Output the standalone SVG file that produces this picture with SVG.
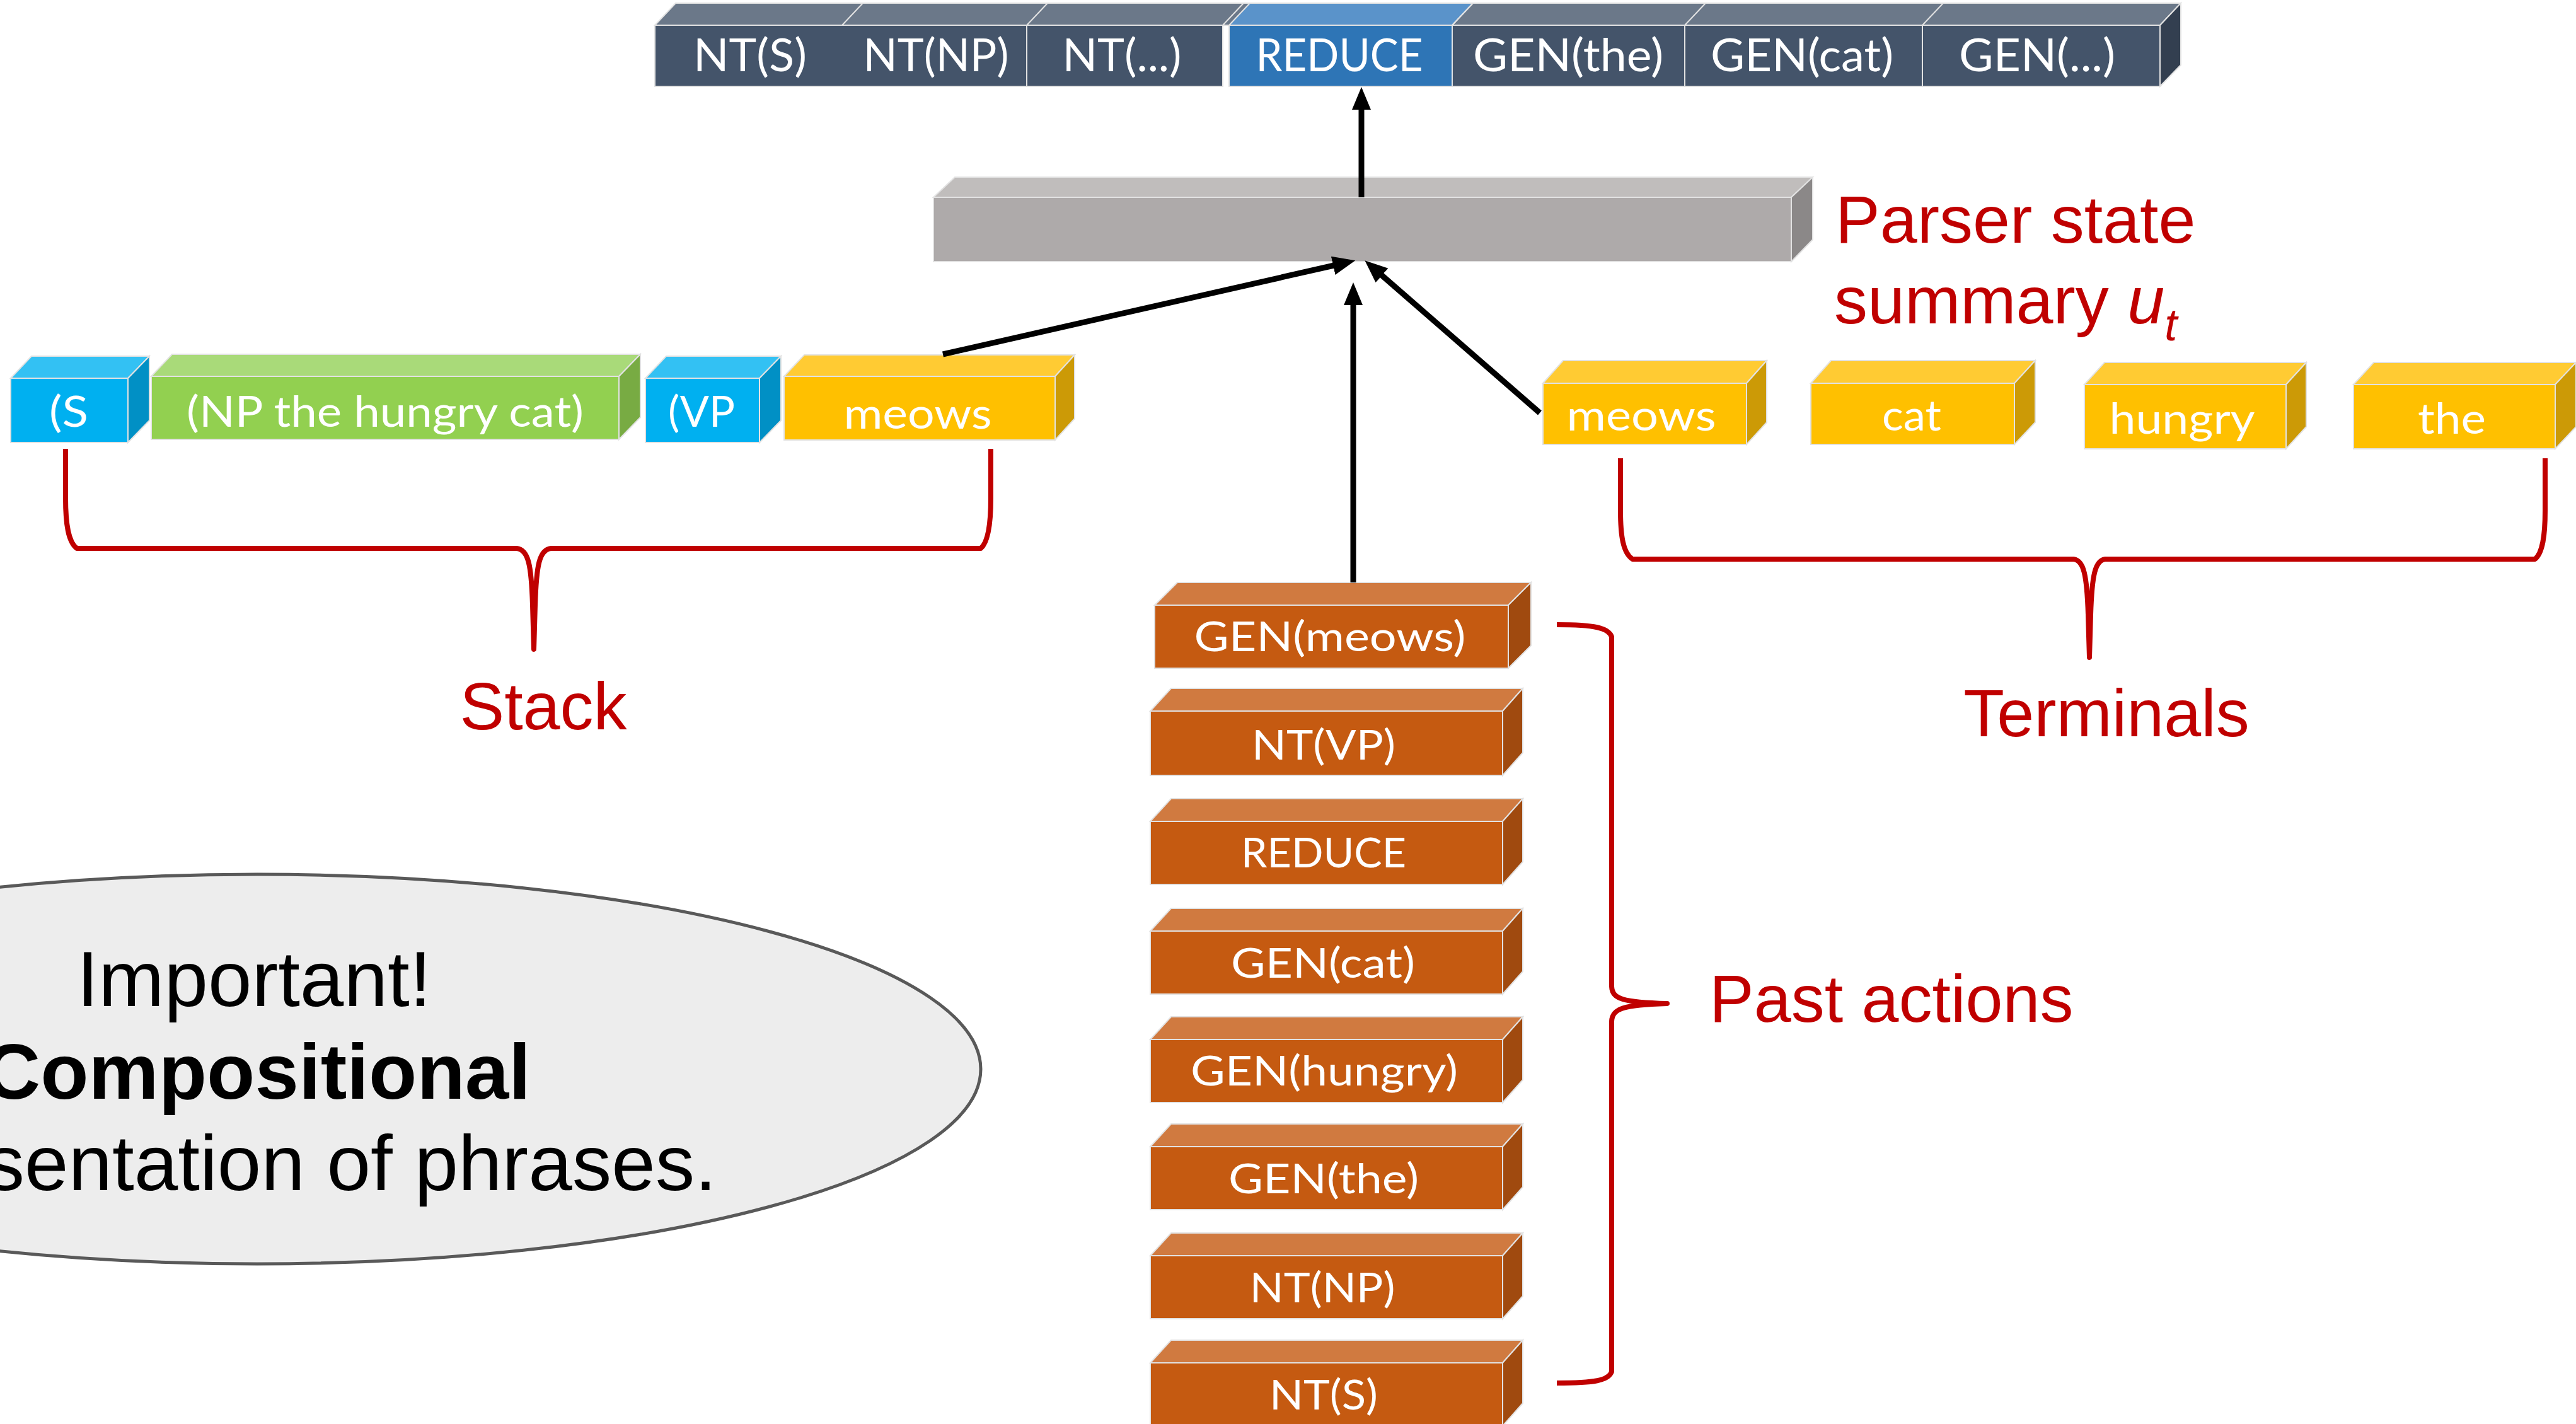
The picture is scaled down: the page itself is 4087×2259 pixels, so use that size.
<svg xmlns="http://www.w3.org/2000/svg" width="4087" height="2259" viewBox="0 0 4087 2259">
  <style>
    .lbl { font-family: Lato, "Open Sans", sans-serif; fill: #ffffff; text-anchor: middle; }
    .red { font-family: "Liberation Sans", Arial, sans-serif; fill: #C00000; }
    .note { font-family: "Liberation Sans", Arial, sans-serif; fill: #000000; font-size: 125px; }
    .edge { stroke: #E2E2E2; stroke-width: 2; }
    .brace { fill: none; stroke: #C00000; stroke-width: 8; stroke-linejoin: round; }
    .conn { fill: none; stroke: #000000; stroke-width: 9; }
    /* action bar */
    .sl-f { fill: #44546A; } .sl-t { fill: #6B7889; } .sl-s { fill: #333F50; }
    .bl-f { fill: #2E75B6; } .bl-t { fill: #5A93CA; }
    /* stack and terminal blocks */
    .cy-f { fill: #00B0F0; } .cy-t { fill: #33C1F3; } .cy-s { fill: #0190C5; }
    .gr-f { fill: #92D050; } .gr-t { fill: #A9DA79; } .gr-s { fill: #78AB43; }
    .ye-f { fill: #FFC000; } .ye-t { fill: #FFCB33; } .ye-s { fill: #CC9A06; }
    .gy-f { fill: #AEAAAA; } .gy-t { fill: #C0BDBC; } .gy-s { fill: #8B8888; }
    .or-f { fill: #C55A11; } .or-t { fill: #D07A40; } .or-s { fill: #A04A0F; }
  </style>
  <defs>
    <marker id="arrow" markerUnits="userSpaceOnUse" viewBox="0 0 36 30" markerWidth="36" markerHeight="30" refX="6" refY="15" orient="auto">
      <path d="M0,0 L36,15 L0,30 z" fill="#000000"/>
    </marker>
  </defs>

  <rect x="0" y="0" width="4087" height="2259" fill="#ffffff"/>

  <!-- callout ellipse -->
  <g id="note">
    <ellipse cx="408" cy="1696" rx="1148" ry="309" fill="#EDEDED" stroke="#595959" stroke-width="5"/>
    <text class="note" x="403" y="1596" text-anchor="middle">Important!</text>
    <text class="note" x="408" y="1743" text-anchor="middle" font-weight="bold">Compositional</text>
    <text class="note" x="1137" y="1888" text-anchor="end">sentation of phrases.</text>
  </g>

  <!-- action sequence bar -->
  <g id="actions">
    <polygon class="sl-t edge" points="1039,40 1072,5 3460,5 3427,40"/>
    <polygon class="bl-t edge" points="1950,40 1983,5 2337,5 2304,40"/>
    <polygon class="sl-s edge" points="3427,40 3460,5 3460,103 3427,137"/>
    <rect class="sl-f edge" x="1039" y="40" width="901" height="97"/>
    <rect class="bl-f edge" x="1950" y="40" width="354" height="97"/>
    <rect class="sl-f edge" x="2304" y="40" width="1123" height="97"/>
    <g stroke="#E2E2E2" stroke-width="2">
      <line x1="1336" y1="40" x2="1369" y2="5"/>
      <line x1="1629" y1="40" x2="1662" y2="5"/>
      <line x1="1629" y1="40" x2="1629" y2="137"/>
      <line x1="1940" y1="40" x2="1973" y2="5"/>
      <line x1="2304" y1="40" x2="2337" y2="5"/>
      <line x1="2673" y1="40" x2="2706" y2="5"/>
      <line x1="2673" y1="40" x2="2673" y2="137"/>
      <line x1="3050" y1="40" x2="3083" y2="5"/>
      <line x1="3050" y1="40" x2="3050" y2="137"/>
    </g>
    <g class="lbl" font-size="72">
      <text x="1190" y="113" textLength="180" lengthAdjust="spacingAndGlyphs">NT(S)</text>
      <text x="1485" y="113" textLength="231" lengthAdjust="spacingAndGlyphs">NT(NP)</text>
      <text x="1780" y="113" textLength="189" lengthAdjust="spacingAndGlyphs">NT(...)</text>
      <text x="2125" y="113" textLength="265" lengthAdjust="spacingAndGlyphs">REDUCE</text>
      <text x="2488" y="113" textLength="302" lengthAdjust="spacingAndGlyphs">GEN(the)</text>
      <text x="2859" y="113" textLength="290" lengthAdjust="spacingAndGlyphs">GEN(cat)</text>
      <text x="3232" y="113" textLength="248" lengthAdjust="spacingAndGlyphs">GEN(...)</text>
    </g>
  </g>

  <!-- parser state summary -->
  <g id="summary">
    <polygon class="gy-t edge" points="1481,313 1515,281 2876,281 2842,313"/>
    <polygon class="gy-s edge" points="2842,313 2876,281 2876,380 2842,415"/>
    <rect class="gy-f edge" x="1481" y="313" width="1361" height="102"/>
  </g>
  <g id="summary-label">
    <text class="red" x="2912" y="385" font-size="106">Parser state</text>
    <text class="red" x="2910" y="513" font-size="106">summary <tspan font-style="italic">u</tspan><tspan font-style="italic" font-size="72" dy="27">t</tspan></text>
  </g>

  <!-- stack -->
  <g id="stack-s">
    <polygon class="cy-t edge" points="17,600 50,565 237,565 203,600"/>
    <polygon class="cy-s edge" points="203,600 237,565 237,667 203,702"/>
    <rect class="cy-f edge" x="17" y="600" width="186" height="102"/>
    <text class="lbl" x="109" y="677" font-size="68" textLength="62" lengthAdjust="spacingAndGlyphs">(S</text>
  </g>
  <g id="stack-np">
    <polygon class="gr-t edge" points="240,597 273,562 1016,562 982,597"/>
    <polygon class="gr-s edge" points="982,597 1016,562 1016,662 982,697"/>
    <rect class="gr-f edge" x="240" y="597" width="742" height="100"/>
    <text class="lbl" x="611" y="677" font-size="68" textLength="630" lengthAdjust="spacingAndGlyphs">(NP the hungry cat)</text>
  </g>
  <g id="stack-vp">
    <polygon class="cy-t edge" points="1024,600 1057,565 1239,565 1205,600"/>
    <polygon class="cy-s edge" points="1205,600 1239,565 1239,667 1205,702"/>
    <rect class="cy-f edge" x="1024" y="600" width="181" height="102"/>
    <text class="lbl" x="1113" y="677" font-size="68" textLength="106" lengthAdjust="spacingAndGlyphs">(VP</text>
  </g>
  <g id="stack-meows">
    <polygon class="ye-t edge" points="1244,597 1276,563 1705,563 1674,597"/>
    <polygon class="ye-s edge" points="1674,597 1705,563 1705,664 1674,698"/>
    <rect class="ye-f edge" x="1244" y="597" width="430" height="101"/>
    <text class="lbl" x="1456" y="680" font-size="68" textLength="235" lengthAdjust="spacingAndGlyphs">meows</text>
  </g>
  <g id="stack-label">
    <text class="red" x="862" y="1157" font-size="106" text-anchor="middle">Stack</text>
  </g>

  <!-- terminals -->
  <g id="term-meows">
    <polygon class="ye-t edge" points="2448,608 2480,572 2803,572 2771,608"/>
    <polygon class="ye-s edge" points="2771,608 2803,572 2803,670 2771,705"/>
    <rect class="ye-f edge" x="2448" y="608" width="323" height="97"/>
    <text class="lbl" x="2604" y="683" font-size="68" textLength="237" lengthAdjust="spacingAndGlyphs">meows</text>
  </g>
  <g id="term-cat">
    <polygon class="ye-t edge" points="2873,608 2905,572 3229,572 3196,608"/>
    <polygon class="ye-s edge" points="3196,608 3229,572 3229,670 3196,705"/>
    <rect class="ye-f edge" x="2873" y="608" width="323" height="97"/>
    <text class="lbl" x="3033" y="683" font-size="68" textLength="94" lengthAdjust="spacingAndGlyphs">cat</text>
  </g>
  <g id="term-hungry">
    <polygon class="ye-t edge" points="3307,610 3339,575 3659,575 3627,610"/>
    <polygon class="ye-s edge" points="3627,610 3659,575 3659,677 3627,712"/>
    <rect class="ye-f edge" x="3307" y="610" width="320" height="102"/>
    <text class="lbl" x="3462" y="688" font-size="68" textLength="231" lengthAdjust="spacingAndGlyphs">hungry</text>
  </g>
  <g id="term-the">
    <polygon class="ye-t edge" points="3734,610 3766,575 4087,575 4054,610"/>
    <polygon class="ye-s edge" points="4054,610 4087,575 4087,677 4054,712"/>
    <rect class="ye-f edge" x="3734" y="610" width="320" height="102"/>
    <text class="lbl" x="3890" y="688" font-size="68" textLength="108" lengthAdjust="spacingAndGlyphs">the</text>
  </g>
  <g id="terminals-label">
    <text class="red" x="3342" y="1168" font-size="106" text-anchor="middle">Terminals</text>
  </g>

  <!-- past actions -->
  <g id="past-1">
    <polygon class="or-t edge" points="1832,960 1868,924 2429,924 2393,960"/>
    <polygon class="or-s edge" points="2393,960 2429,924 2429,1024 2393,1060"/>
    <rect class="or-f edge" x="1832" y="960" width="561" height="100"/>
    <text class="lbl" x="2110" y="1033" font-size="66" textLength="431" lengthAdjust="spacingAndGlyphs">GEN(meows)</text>
  </g>
  <g id="past-2">
    <polygon class="or-t edge" points="1825,1128 1858,1092 2416,1092 2384,1128"/>
    <polygon class="or-s edge" points="2384,1128 2416,1092 2416,1194 2384,1230"/>
    <rect class="or-f edge" x="1825" y="1128" width="559" height="102"/>
    <text class="lbl" x="2100" y="1205" font-size="66" textLength="228" lengthAdjust="spacingAndGlyphs">NT(VP)</text>
  </g>
  <g id="past-3">
    <polygon class="or-t edge" points="1825,1303 1858,1267 2416,1267 2384,1303"/>
    <polygon class="or-s edge" points="2384,1303 2416,1267 2416,1367 2384,1403"/>
    <rect class="or-f edge" x="1825" y="1303" width="559" height="100"/>
    <text class="lbl" x="2100" y="1376" font-size="66" textLength="262" lengthAdjust="spacingAndGlyphs">REDUCE</text>
  </g>
  <g id="past-4">
    <polygon class="or-t edge" points="1825,1477 1858,1441 2416,1441 2384,1477"/>
    <polygon class="or-s edge" points="2384,1477 2416,1441 2416,1541 2384,1577"/>
    <rect class="or-f edge" x="1825" y="1477" width="559" height="100"/>
    <text class="lbl" x="2099" y="1551" font-size="66" textLength="292" lengthAdjust="spacingAndGlyphs">GEN(cat)</text>
  </g>
  <g id="past-5">
    <polygon class="or-t edge" points="1825,1649 1858,1613 2416,1613 2384,1649"/>
    <polygon class="or-s edge" points="2384,1649 2416,1613 2416,1713 2384,1749"/>
    <rect class="or-f edge" x="1825" y="1649" width="559" height="100"/>
    <text class="lbl" x="2101" y="1722" font-size="66" textLength="424" lengthAdjust="spacingAndGlyphs">GEN(hungry)</text>
  </g>
  <g id="past-6">
    <polygon class="or-t edge" points="1825,1819 1858,1783 2416,1783 2384,1819"/>
    <polygon class="or-s edge" points="2384,1819 2416,1783 2416,1883 2384,1919"/>
    <rect class="or-f edge" x="1825" y="1819" width="559" height="100"/>
    <text class="lbl" x="2100" y="1893" font-size="66" textLength="302" lengthAdjust="spacingAndGlyphs">GEN(the)</text>
  </g>
  <g id="past-7">
    <polygon class="or-t edge" points="1825,1992 1858,1956 2416,1956 2384,1992"/>
    <polygon class="or-s edge" points="2384,1992 2416,1956 2416,2056 2384,2092"/>
    <rect class="or-f edge" x="1825" y="1992" width="559" height="100"/>
    <text class="lbl" x="2098" y="2066" font-size="66" textLength="231" lengthAdjust="spacingAndGlyphs">NT(NP)</text>
  </g>
  <g id="past-8">
    <polygon class="or-t edge" points="1825,2162 1858,2126 2416,2126 2384,2162"/>
    <polygon class="or-s edge" points="2384,2162 2416,2126 2416,2226 2384,2262"/>
    <rect class="or-f edge" x="1825" y="2162" width="559" height="100"/>
    <text class="lbl" x="2100" y="2236" font-size="66" textLength="172" lengthAdjust="spacingAndGlyphs">NT(S)</text>
  </g>
  <g id="past-label">
    <text class="red" x="2712" y="1621" font-size="106">Past actions</text>
  </g>

  <!-- grouping braces -->
  <g id="braces">
    <path class="brace" d="M104,712 L104,790 C104,830 108,860 122,870 L820,870 C838,872 843,895 845,960 L847,1030 L849,960 C851,895 856,872 874,870 L1556,870 C1568,860 1572,830 1572,790 L1572,712"/>
    <path class="brace" stroke-width="13" d="M124,870 L818,870 M876,870 L1554,870"/>
    <path class="brace" d="M2571,727 L2571,810 C2571,850 2575,877 2590,887 L3290,887 C3306,889 3311,912 3313,975 L3315,1043 L3317,975 C3319,912 3324,889 3340,887 L4022,887 C4034,877 4038,850 4038,810 L4038,727"/>
    <path class="brace" stroke-width="13" d="M2592,887 L3288,887 M3342,887 L4020,887"/>
    <path class="brace" stroke-width="9" d="M2470,991 C2530,991 2552,996 2557,1010 L2557,1565 C2558,1585 2575,1590 2645,1592 C2575,1594 2558,1600 2557,1620 L2557,2176 C2552,2190 2530,2194 2470,2194"/>
  </g>

  <!-- connectors -->
  <g id="connectors">
    <line class="conn" x1="2160" y1="313" x2="2160" y2="168" marker-end="url(#arrow)"/>
    <line class="conn" x1="1496" y1="562" x2="2121" y2="420" marker-end="url(#arrow)"/>
    <line class="conn" x1="2147" y1="924" x2="2147" y2="478" marker-end="url(#arrow)"/>
    <line class="conn" x1="2443" y1="655" x2="2188" y2="433" marker-end="url(#arrow)"/>
  </g>
</svg>
